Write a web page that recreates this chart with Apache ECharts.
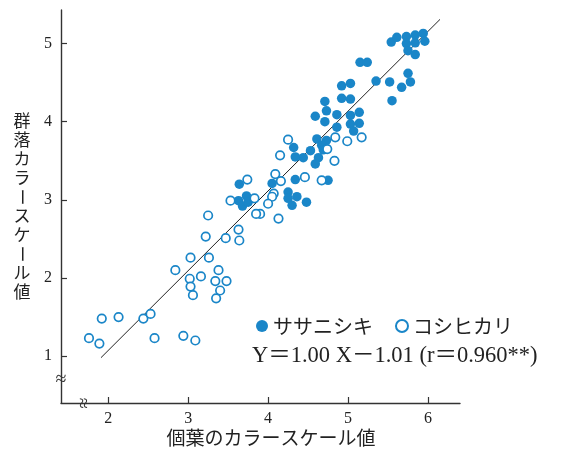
<!DOCTYPE html>
<html>
<head>
<meta charset="utf-8">
<script src="https://cdn.jsdelivr.net/npm/echarts@6/dist/echarts.min.js"></script>
<style>
html,body{margin:0;padding:0;background:#fff;}
#chart{width:571px;height:452px;}
</style>
</head>
<body>
<div id="chart"></div>
<script>
// ---- data ----
const xTickValues = [2, 3, 4, 5, 6];
const yTickValues = [1, 2, 3, 4, 5];
const seriesNames = ['ササニシキ', 'コシヒカリ'];
const xAxisTitle = '個葉のカラースケール値';
const yAxisTitle = '群落カラースケール値';
const equationText = 'Y＝1.00 X－1.01 (r＝0.960**)';

// ササニシキ (filled)
const sasaX = [5.54,5.61,5.73,5.84,5.94,5.96,5.73,5.84,5.75,5.84,5.15,5.24,5.35,5.52,5.75,5.78,5.67,5.55,
  4.92,5.03,4.92,5.03,4.71,4.73,4.59,4.71,4.86,5.03,5.14,5.03,5.14,4.86,5.07,4.61,4.73,4.67,4.69,4.53,
  4.32,4.63,4.44,4.34,4.59,4.34,4.75,4.05,4.25,4.25,4.36,4.30,4.48,3.64,3.63,3.73,3.68,3.75];
const sasaY = [5.02,5.08,5.09,5.11,5.13,5.03,5.00,5.01,4.91,4.86,4.76,4.76,4.52,4.51,4.62,4.51,4.44,4.27,
  4.46,4.49,4.30,4.29,4.26,4.14,4.07,4.00,4.09,4.08,4.12,3.97,3.98,3.93,3.88,3.78,3.76,3.70,3.64,3.63,
  3.67,3.54,3.54,3.55,3.46,3.26,3.25,3.21,3.10,3.02,3.04,2.93,2.97,3.20,2.99,3.05,2.92,2.97];

// コシヒカリ (open)
const kosiX = [5.17,4.99,4.84,4.25,4.15,4.74,4.83,4.09,4.16,4.46,4.67,3.74,4.07,4.05,4.00,4.13,3.90,3.53,
  3.83,3.85,3.25,3.22,3.47,3.63,3.64,3.03,3.26,2.84,3.02,3.16,3.38,3.34,3.48,3.03,3.40,3.06,3.35,
  1.92,2.13,2.44,2.53,1.76,1.89,2.58,2.94,3.09];
const kosiY = [3.80,3.75,3.80,3.77,3.57,3.65,3.50,3.33,3.24,3.29,3.25,3.26,3.08,3.04,2.95,2.76,2.82,2.99,
  3.02,2.82,2.80,2.53,2.51,2.62,2.48,2.26,2.26,2.10,1.99,2.02,2.10,1.96,1.96,1.89,1.84,1.78,1.74,
  1.48,1.50,1.48,1.54,1.23,1.16,1.23,1.26,1.20];

// regression line as drawn
const fitX = [1.91, 6.15];
const fitY = [0.98, 5.31];

// ---- chart ----
const BLUE = '#1a86c8';
const serif = '"Liberation Serif","DejaVu Serif","Noto Sans CJK JP",serif';
const jp = '"Noto Sans CJK JP",sans-serif';
const zip = (a, b) => a.map((v, i) => [v, b[i]]);

const chart = echarts.init(document.getElementById('chart'), null, {renderer: 'canvas'});
const X_MIN = 1.41, X_MAX = 6.40, Y_MIN = 0.40, Y_MAX = 5.43;

chart.setOption({
  animation: false,
  backgroundColor: '#ffffff',
  grid: {left: 61, right: 111, top: 10, bottom: 49, containLabel: false},
  xAxis: {
    type: 'value', min: X_MIN, max: X_MAX,
    axisLine: {show: true, onZero: false, lineStyle: {color: '#333', width: 1.4}},
    axisTick: {show: true, inside: true, length: 6, customValues: xTickValues, lineStyle: {color: '#333', width: 1.2}},
    axisLabel: {customValues: xTickValues, margin: 8, color: '#222', fontFamily: serif, fontSize: 16},
    splitLine: {show: false}
  },
  yAxis: {
    type: 'value', min: Y_MIN, max: Y_MAX,
    axisLine: {show: true, onZero: false, lineStyle: {color: '#333', width: 1.4}},
    axisTick: {show: true, inside: true, length: 6, customValues: yTickValues, lineStyle: {color: '#333', width: 1.2}},
    axisLabel: {customValues: yTickValues, margin: 9, color: '#222', fontFamily: serif, fontSize: 16},
    splitLine: {show: false}
  },
  legend: {
    left: 251, top: 311,
    itemWidth: 12, itemHeight: 12, itemGap: 22,
    icon: 'circle',
    textStyle: {fontFamily: jp, fontSize: 20, color: '#222'},
    data: [
      {name: seriesNames[0], itemStyle: {color: BLUE, borderWidth: 0}},
      {name: seriesNames[1], itemStyle: {color: '#fff', borderColor: BLUE, borderWidth: 2}}
    ]
  },
  series: [
    {
      type: 'line', data: zip(fitX, fitY), showSymbol: false, symbol: 'none',
      lineStyle: {color: '#222', width: 1}, z: 1, silent: true
    },
    {
      name: seriesNames[0], type: 'scatter', data: zip(sasaX, sasaY),
      symbol: 'circle', symbolSize: 9.5,
      itemStyle: {color: BLUE, opacity: 1}, z: 2
    },
    {
      name: seriesNames[1], type: 'scatter', data: zip(kosiX, kosiY),
      symbol: 'circle', symbolSize: 8.5,
      itemStyle: {color: '#ffffff', borderColor: BLUE, borderWidth: 1.7, opacity: 1}, z: 3
    }
  ]
});

// axis titles, equation, break marks
const px = (x, y) => chart.convertToPixel({gridIndex: 0}, [x, y]);
const yBreak = px(X_MIN, 0.70);
const xBreak = px(1.71, Y_MIN);
const g = [];
const chars = Array.from(yAxisTitle);
chars.forEach((c, i) => {
  g.push({
    type: 'text', x: 22, y: 121 + i * 19,
    rotation: c === 'ー' ? -Math.PI / 2 : 0,
    style: {text: c, fontFamily: jp, fontSize: 17, fill: '#222', align: 'center', verticalAlign: 'middle'}
  });
});
g.push({
  type: 'text', x: 271, y: 438,
  style: {text: xAxisTitle, fontFamily: jp, fontSize: 19, fill: '#222', align: 'center', verticalAlign: 'middle'}
});
g.push({
  type: 'text', x: 252, y: 356,
  style: {text: equationText, fontFamily: serif, fontSize: 22.5, fill: '#222', align: 'left', verticalAlign: 'middle'}
});
g.push({
  type: 'text', x: yBreak[0], y: yBreak[1],
  style: {text: '≈', fontFamily: serif, fontSize: 20, fill: '#333', align: 'center', verticalAlign: 'middle', backgroundColor: '#fff'}
});
g.push({
  type: 'text', x: xBreak[0], y: xBreak[1], rotation: Math.PI / 2,
  style: {text: '≈', fontFamily: serif, fontSize: 20, fill: '#333', align: 'center', verticalAlign: 'middle', backgroundColor: '#fff'}
});
chart.setOption({graphic: g});
</script>
</body>
</html>
